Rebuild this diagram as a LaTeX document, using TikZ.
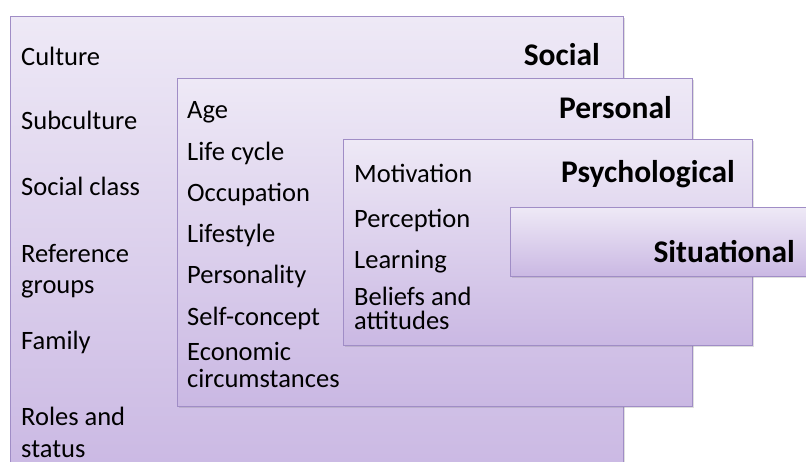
\documentclass[tikz,border=0pt]{standalone}
\usepackage{fontspec}
\setmainfont{Carlito}
\usetikzlibrary{shadows}
\definecolor{lilactop}{HTML}{EEE9F6}
\definecolor{lilacbot}{HTML}{CAB8E3}
\definecolor{lilacline}{HTML}{A08DC6}
\begin{document}
\begin{tikzpicture}[x=1pt, y=1pt]
\tikzstyle{layer}=[rectangle, anchor=north west, inner sep=0pt, draw=lilacline, line width=1pt, top color=lilactop, bottom color=lilacbot, drop shadow={shadow xshift=1.5pt, shadow yshift=-1.5pt, opacity=0.25}]
\tikzstyle{item}=[anchor=base west, inner sep=0pt, align=left, font=\fontsize{26.5}{27}\selectfont]
\tikzstyle{head}=[anchor=base east, inner sep=0pt, font=\bfseries\fontsize{31.5}{36}\selectfont]
    \useasboundingbox (0,0) rectangle (806,-461);
    % the four layers, outermost first
    \node[layer, minimum width=613pt, minimum height=460pt] (social) at (10,-16) {};
    \node[layer, minimum width=515pt, minimum height=328pt] (personal) at (177,-78) {};
    \node[layer, minimum width=409pt, minimum height=206pt] (psycho) at (343,-139) {};
    \node[layer, minimum width=310pt, minimum height=69pt] (situ) at (510,-207) {};
    % headings
    \node[head] (socialhead) at (600,-65) {Social};
    \node[head] (personalhead) at (672,-118) {Personal};
    \node[head] (psychohead) at (735,-182) {Psychological};
    \node[head] (situhead) at (795,-262) {Situational};
    % social factors (multi-line nodes sit on their last line)
    \node[item] (culture) at (21,-65) {Culture};
    \node[item] (subculture) at (21,-129) {Subculture};
    \node[item] (class) at (21,-195) {Social class};
    \node[item] (refgroups) at (21,-293) {Reference\\[4pt]groups};
    \node[item] (family) at (21,-349) {Family};
    \node[item] (roles) at (21,-457) {Roles and\\[5pt]status};
    % personal factors
    \node[item] (age) at (187,-118) {Age};
    \node[item] (lifecycle) at (187,-160) {Life cycle};
    \node[item] (occupation) at (187,-201) {Occupation};
    \node[item] (lifestyle) at (187,-242) {Lifestyle};
    \node[item] (personality) at (187,-283) {Personality};
    \node[item] (selfconcept) at (187,-325) {Self-concept};
    \node[item] (economic) at (187,-387) {Economic\\circumstances};
    % psychological factors
    \node[item] (motivation) at (354,-182) {Motivation};
    \node[item] (perception) at (354,-227) {Perception};
    \node[item] (learning) at (354,-268) {Learning};
    \node[item] (beliefs) at (354,-329) {Beliefs and\\[-3pt]attitudes};
\end{tikzpicture}
\end{document}
